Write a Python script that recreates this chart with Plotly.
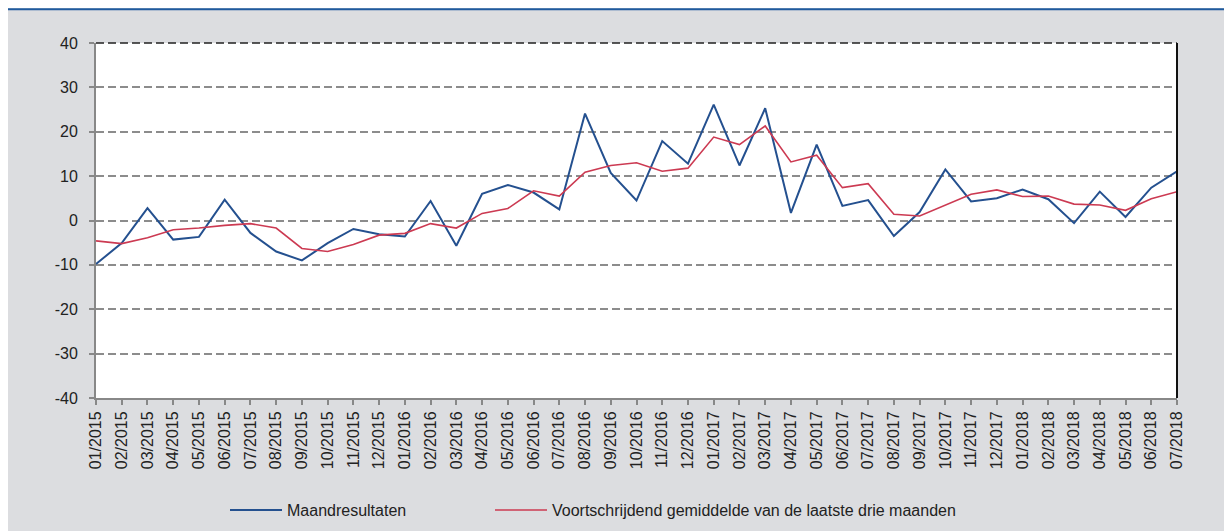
import plotly.graph_objects as go

months = ["01/2015", "02/2015", "03/2015", "04/2015", "05/2015", "06/2015", "07/2015", "08/2015",
          "09/2015", "10/2015", "11/2015", "12/2015", "01/2016", "02/2016", "03/2016", "04/2016",
          "05/2016", "06/2016", "07/2016", "08/2016", "09/2016", "10/2016", "11/2016", "12/2016",
          "01/2017", "02/2017", "03/2017", "04/2017", "05/2017", "06/2017", "07/2017", "08/2017",
          "09/2017", "10/2017", "11/2017", "12/2017", "01/2018", "02/2018", "03/2018", "04/2018",
          "05/2018", "06/2018", "07/2018"]

maandresultaten = [-9.8, -5.1, 2.8, -4.3, -3.7, 4.7, -2.8, -7.0, -9.0, -5.1, -1.9, -3.1, -3.6,
                   4.4, -5.7, 6.0, 8.0, 6.3, 2.5, 24.1, 10.7, 4.5, 17.9, 12.8, 26.1, 12.4, 25.3,
                   1.7, 17.1, 3.3, 4.6, -3.5, 1.9, 11.5, 4.3, 5.0, 7.0, 4.8, -0.6, 6.5, 0.8, 7.4, 11.1]

gemiddelde = [-4.6, -5.2, -3.9, -2.1, -1.7, -1.1, -0.7, -1.7, -6.3, -7.0, -5.4, -3.3, -2.9,
              -0.7, -1.7, 1.6, 2.7, 6.7, 5.5, 10.9, 12.4, 13.0, 11.1, 11.8, 18.8, 17.1, 21.3,
              13.2, 14.7, 7.4, 8.3, 1.4, 1.0, 3.4, 5.9, 6.9, 5.4, 5.5, 3.7, 3.5, 2.3, 4.9, 6.5]

series_names = ["Maandresultaten", "Voortschrijdend gemiddelde van de laatste drie maanden"]
y_ticks = [-40, -30, -20, -10, 0, 10, 20, 30, 40]
y_ticktext = ["-40", "-30", "-20", "-10", "0", "10", "20", "30", "40"]

# figure coordinates (page body adds an 8px offset)
W, H = 1232, 531
L, R, T, B = 88, 1169, 35, 393
pw, ph = R - L, B - T


def px_x(p):
    return (p - L) / pw


def px_y(p):
    return (B - p) / ph


FONT = "Liberation Sans, Arial, sans-serif"
GREY_BG = "#dcdde0"

fig = go.Figure()
fig.add_trace(go.Scatter(x=months, y=maandresultaten, mode="lines", name=series_names[0],
                         line=dict(color="#24508f", width=2), legend="legend"))
fig.add_trace(go.Scatter(x=months, y=gemiddelde, mode="lines", name=series_names[1],
                         line=dict(color="#cc3a52", width=1.6), legend="legend2"))

shapes = [
    # blue top rule
    dict(type="line", xref="paper", yref="paper", x0=px_x(-2), x1=px_x(W + 2), y0=px_y(1), y1=px_y(1),
         line=dict(color="#1f5a9e", width=2), layer="below"),
    # top dashed black border
    dict(type="line", xref="paper", yref="paper", x0=0, x1=1, y0=1, y1=1,
         line=dict(color="#222222", width=1.5, dash="8px,4px"), layer="above"),
    # right black border
    dict(type="line", xref="paper", yref="paper", x0=1, x1=1, y0=0, y1=1,
         line=dict(color="#111111", width=2), layer="above"),
]

legend_common = dict(orientation="h", xanchor="left", y=px_y(506), yanchor="middle",
                     bgcolor="rgba(0,0,0,0)", font=dict(family=FONT, size=16, color="#222222"),
                     itemwidth=52)

fig.update_layout(
    width=W, height=H,
    margin=dict(l=L, r=W - R, t=T, b=H - B, pad=0),
    paper_bgcolor=GREY_BG,
    plot_bgcolor="white",
    font=dict(family=FONT, size=16, color="#222222"),
    shapes=shapes,
    showlegend=True,
    legend=dict(x=px_x(217), **legend_common),
    legend2=dict(x=px_x(482), **legend_common),
    xaxis=dict(type="category", range=[0, len(months) - 1], tickangle=-90,
               showgrid=False, showline=True, linecolor="#888888", linewidth=2,
               ticks="outside", ticklen=5, tickwidth=1.5, tickcolor="#888888",
               tickfont=dict(family=FONT, size=16, color="#222222"), zeroline=False),
    yaxis=dict(range=[-40, 40], tickvals=y_ticks, ticktext=y_ticktext, showgrid=True,
               gridcolor="#8c8c8c", gridwidth=2, griddash="8px,4px", zeroline=False,
               showline=True, linecolor="#888888", linewidth=2, ticks="outside", ticklen=5,
               tickwidth=1.5, tickcolor="#888888", ticklabelstandoff=8,
               tickfont=dict(family=FONT, size=16, color="#222222")),
)

fig.write_html("out.html")
